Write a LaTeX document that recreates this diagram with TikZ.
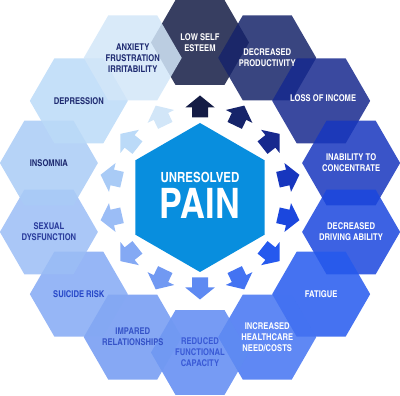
\documentclass[tikz,border=0pt]{standalone}
\usepackage{fontspec}
\newfontfamily\cnd{texgyreheroscn}[Extension=.otf, UprightFont=*-regular, BoldFont=*-bold]
\usetikzlibrary{shapes.geometric}
\definecolor{c0}{HTML}{141C45}
\definecolor{c1}{HTML}{16246A}
\definecolor{c2}{HTML}{17298E}
\definecolor{c3}{HTML}{1736BE}
\definecolor{c4}{HTML}{1B47DE}
\definecolor{c5}{HTML}{2559EE}
\definecolor{c6}{HTML}{4373F2}
\definecolor{c7}{HTML}{5E8AF2}
\definecolor{c8}{HTML}{7199F2}
\definecolor{c9}{HTML}{84A9F4}
\definecolor{c10}{HTML}{9BBDF6}
\definecolor{c11}{HTML}{A9CBF6}
\definecolor{c12}{HTML}{BBDAF8}
\definecolor{c13}{HTML}{D2E6F8}
\definecolor{t7}{HTML}{3A5AD6}
\definecolor{t8}{HTML}{3553C8}
\definecolor{t9}{HTML}{2748C8}
\definecolor{t10}{HTML}{2A3C9C}
\definecolor{tnavy}{HTML}{1E2A70}
\definecolor{core}{HTML}{088EDE}
\begin{document}
\begin{tikzpicture}[x=1pt,y=1pt,
  hexa/.style={regular polygon, regular polygon sides=6, minimum size=98pt,
    inner sep=0pt, outer sep=0pt, draw=none, fill opacity=0.85},
  lbl/.style={font=\cnd\bfseries\fontsize{9.3}{11}\selectfont, align=center, inner sep=0pt},
  corehex/.style={regular polygon, regular polygon sides=6, shape border rotate=30,
    minimum size=149pt, inner sep=0pt, fill=core, draw=none},
  titletxt/.style={text=white, inner sep=0pt, align=center,
    font=\cnd\bfseries\fontsize{42}{36}\selectfont}]
\useasboundingbox (0,0) rectangle (400,396);
\coordinate (O) at (200,198.5);
% outer ring of hexagons
\foreach \k in {0,...,13}{
  \pgfmathsetmacro\ang{90-\k*360/14}
  \node[hexa, fill=c\k] (h\k) at ([shift={(\ang:155)}]O) {};
}
% labels
\node[lbl, text=white] (t0) at (h0) {LOW SELF\\ESTEEM};
\node[lbl, text=white] (t1) at (h1) {DECREASED\\PRODUCTIVITY};
\node[lbl, text=white] (t2) at ([shift={(2,3)}]h2) {LOSS OF INCOME};
\node[lbl, text=white] (t3) at (h3) {INABILITY TO\\CONCENTRATE};
\node[lbl, text=white] (t4) at (h4) {DECREASED\\DRIVING ABILITY};
\node[lbl, text=white] (t5) at (h5) {FATIGUE};
\node[lbl, text=white] (t6) at (h6) {INCREASED\\HEALTHCARE\\NEED/COSTS};
\node[lbl, text=t7] (t7) at (h7) {REDUCED\\FUNCTIONAL\\CAPACITY};
\node[lbl, text=t8] (t8) at (h8) {IMPARED\\RELATIONSHIPS};
\node[lbl, text=t9] (t9) at (h9) {SUICIDE RISK};
\node[lbl, text=t10] (t10) at (h10) {SEXUAL\\DYSFUNCTION};
\node[lbl, text=tnavy] (t11) at (h11) {INSOMNIA};
\node[lbl, text=tnavy] (t12) at (h12) {DEPRESSION};
\node[lbl, text=tnavy] (t13) at (h13) {ANXIETY\\FRUSTRATION\\IRRITABILITY};
% central hexagon
\node[corehex] (core) at (O) {};
\node[titletxt] (title) at ([yshift=2.5pt]core.center)
  {{\fontsize{14}{14}\selectfont UNRESOLVED}\\PAIN};
% arrows
\foreach \k in {0,...,13}{
  \pgfmathsetmacro\ang{90-\k*360/14}
  \begin{scope}[shift={(O)}, rotate=\ang]
    \fill[c\k] (80,-8) -- (90,-8) -- (90,-14.75) -- (102,0) -- (90,14.75) -- (90,8) -- (80,8) -- cycle;
  \end{scope}
}
\end{tikzpicture}
\end{document}
